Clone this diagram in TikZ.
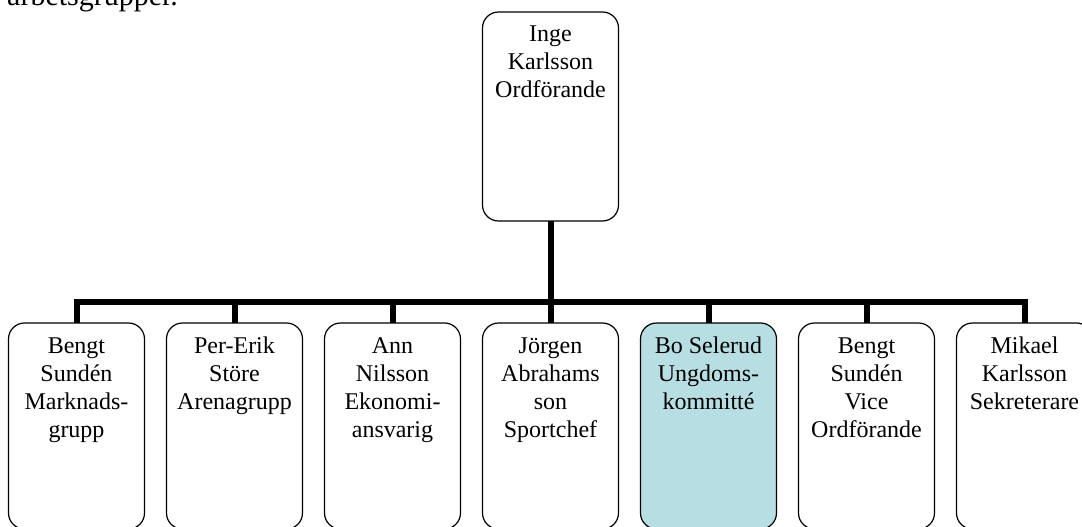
\documentclass[tikz,border=0pt]{standalone}
\usepackage{fontspec}
\setmainfont{Liberation Serif}
\usetikzlibrary{positioning}
\definecolor{kommitte}{RGB}{183,222,226}
%% every box gets its lines set from the top, with the first baseline 30pt down
\newcommand{\boxtext}[2]{\parbox[t][#1][t]{136pt}{\centering\rule{0pt}{30pt}#2}}

\begin{document}
\begin{tikzpicture}[x=1pt, y=-1pt,
    person/.style={draw=black, line width=1.2pt, rounded corners=16pt, inner sep=0pt, outer sep=0pt, fill=white, font=\fontsize{24}{28}\selectfont},
    line/.style={draw=black, line width=6pt}]
    \useasboundingbox (0,0) rectangle (1082,527);
    %% The last words of the text above the chart, cut at the top of the page.
    \node[anchor=base west, inner sep=0pt, font=\fontsize{30}{36}\selectfont] (intro) at (7,6) {arbetsgrupper.};
    %% The chairman on top
    \node[person, anchor=north] (chair) at (550.5,12) {\boxtext{209pt}{Inge\\Karlsson\\Ordförande}};
    %% And the seven groups in a row below him, 22pt apart.
    \node[person, anchor=north] (marknad) at (76.5,323) {\boxtext{206pt}{Bengt\\Sundén\\Marknads-\\grupp}};
    \node[person, right=22pt of marknad] (arena) {\boxtext{206pt}{Per-Erik\\Störe\\Arenagrupp}};
    \node[person, right=22pt of arena] (ekonomi) {\boxtext{206pt}{Ann\\Nilsson\\Ekonomi-\\ansvarig}};
    \node[person, right=22pt of ekonomi] (sport) {\boxtext{206pt}{Jörgen\\Abrahams\\son\\Sportchef}};
    \node[person, right=22pt of sport, fill=kommitte] (ungdom) {\boxtext{206pt}{Bo Selerud\\Ungdoms-\\kommitté}};
    \node[person, right=22pt of ungdom] (vice) {\boxtext{206pt}{Bengt\\Sundén\\Vice\\Ordförande}};
    \node[person, right=22pt of vice] (sekr) {\boxtext{206pt}{Mikael\\Karlsson\\Sekreterare}};
    %% The thick bar that ties them together
    \coordinate (bar) at (0,302);
    \draw[line] (marknad.north) -- (marknad.north |- bar) -- (sekr.north |- bar) -- (sekr.north);
    \draw[line] (chair.south) -- (chair.south |- bar);
    \foreach \n in {arena,ekonomi,sport,ungdom,vice}
        \draw[line] (\n.north) -- (\n.north |- bar);
\end{tikzpicture}
\end{document}
